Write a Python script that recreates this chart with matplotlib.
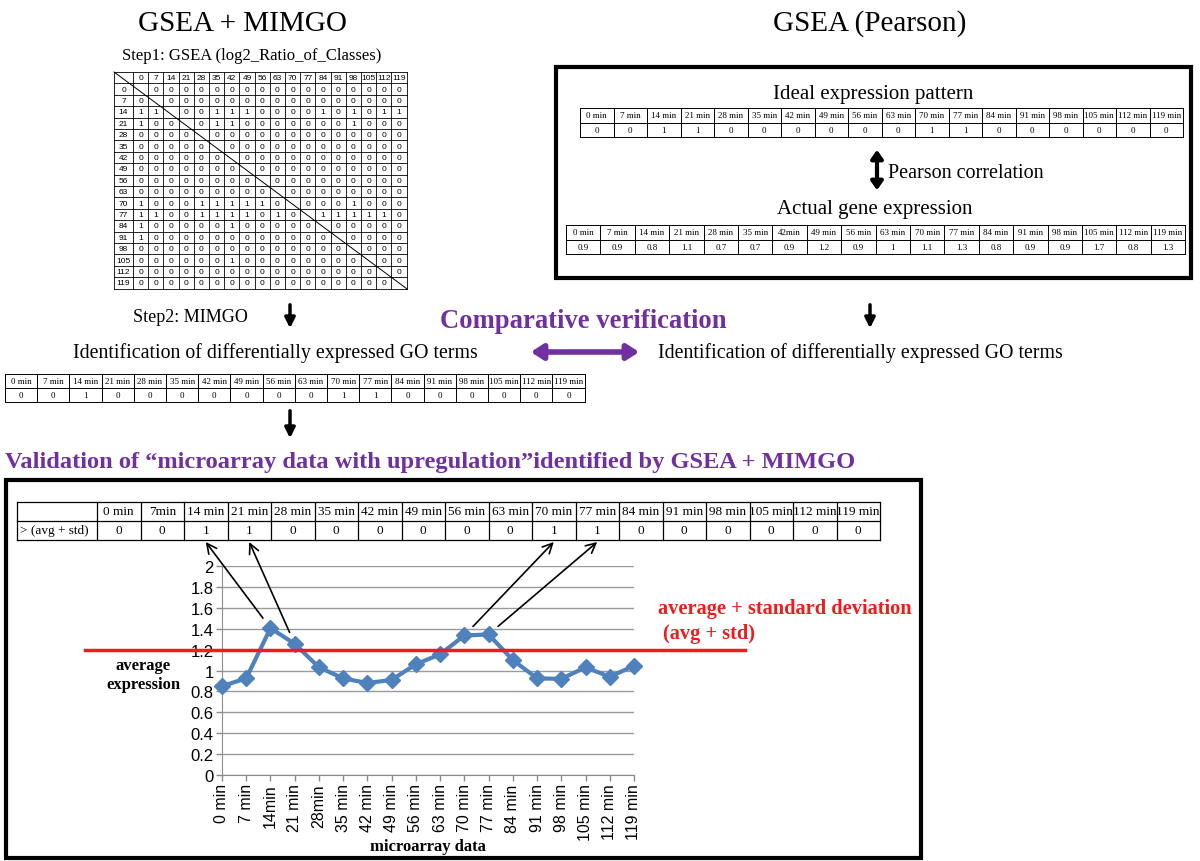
import matplotlib
matplotlib.use("Agg")
import matplotlib.pyplot as plt
from matplotlib.patches import Rectangle
from matplotlib.lines import Line2D

# ---------------- data ----------------
times = [0, 7, 14, 21, 28, 35, 42, 49, 56, 63, 70, 77, 84, 91, 98, 105, 112, 119]
matrix_rows = [
    "-00000000000000000",
    "0-0000000000000000",
    "11-001110000101011",
    "100-01100000001000",
    "0000-0000000000000",
    "00000-000000000000",
    "000000-00000000000",
    "0000000-0000000000",
    "00000000-000000000",
    "000000000-00000000",
    "1000111110-0001000",
    "11001111010-111110",
    "100000100000-00000",
    "1000000000000-0000",
    "00000000000000-000",
    "000000100000000-00",
    "0000000000000000-0",
    "00000000000000000-",
]
minute_labels = ["%d min" % t for t in times]
ideal_pattern = [0, 0, 1, 1, 0, 0, 0, 0, 0, 0, 1, 1, 0, 0, 0, 0, 0, 0]
actual_labels = ["0 min", "7 min", "14 min", "21 min", "28 min", "35 min", "42min", "49 min",
                 "56 min", "63 min", "70 min", "77 min", "84 min", "91 min", "98 min",
                 "105 min", "112 min", "119 min"]
actual_expr = ["0.9", "0.9", "0.8", "1.1", "0.7", "0.7", "0.9", "1.2", "0.9", "1",
               "1.1", "1.3", "0.8", "0.9", "0.9", "1.7", "0.8", "1.3"]
mimgo_result = [0, 0, 1, 0, 0, 0, 0, 0, 0, 0, 1, 1, 0, 0, 0, 0, 0, 0]
flag_labels = ["0 min", "7min", "14 min", "21 min", "28 min", "35 min", "42 min", "49 min",
               "56 min", "63 min", "70 min", "77 min", "84 min", "91 min", "98 min",
               "105 min", "112 min", "119 min"]
above_flags = [0, 0, 1, 1, 0, 0, 0, 0, 0, 0, 1, 1, 0, 0, 0, 0, 0, 0]
chart_labels = ["0 min", "7 min", "14min", "21 min", "28min", "35 min", "42 min", "49 min",
                "56 min", "63 min", "70 min", "77 min", "84 min", "91 min", "98 min",
                "105 min", "112 min", "119 min"]
avg_expr = [0.85, 0.925, 1.405, 1.255, 1.03, 0.925, 0.88, 0.91, 1.06, 1.155,
            1.335, 1.345, 1.10, 0.925, 0.92, 1.03, 0.94, 1.045]
threshold = 1.2
arrow_points = [2, 3, 10, 11]

SERIF = ["Liberation Serif", "DejaVu Serif"]
SANS = ["Liberation Sans", "DejaVu Sans"]
PURPLE = "#7030A0"
RED = "#ee1c1c"
W, H = 1200, 862

fig = plt.figure(figsize=(W / 100, H / 100), dpi=100)
ov = fig.add_axes([0, 0, 1, 1])
ov.set_xlim(0, W)
ov.set_ylim(H, 0)
ov.axis("off")


def draw_table(x0, y0, first_w, col_w, row_h, rows, fs, family, lw=0.8,
               first_align="center"):
    ncols = len(rows[0])
    widths = ([first_w] if first_w else []) + [col_w] * (ncols - (1 if first_w else 0))
    xs = [x0]
    for w in widths:
        xs.append(xs[-1] + w)
    nrows = len(rows)
    ys = [y0 + i * row_h for i in range(nrows + 1)]
    for y in ys:
        ov.add_line(Line2D([xs[0], xs[-1]], [y, y], lw=lw, color="black"))
    for x in xs:
        ov.add_line(Line2D([x, x], [ys[0], ys[-1]], lw=lw, color="black"))
    for r, row in enumerate(rows):
        for c, txt in enumerate(row):
            if txt is None or txt == "":
                continue
            if c == 0 and first_w and first_align == "left":
                ov.text(xs[c] + 3, (ys[r] + ys[r + 1]) / 2, str(txt),
                        ha="left", va="center", fontsize=fs, family=family)
            else:
                ov.text((xs[c] + xs[c + 1]) / 2, (ys[r] + ys[r + 1]) / 2, str(txt),
                        ha="center", va="center", fontsize=fs, family=family)
    return xs, ys


# ---------------- titles ----------------
ov.text(243, 24, "GSEA + MIMGO", ha="center", va="center", fontsize=21, family=SERIF)
ov.text(870, 24, "GSEA (Pearson)", ha="center", va="center", fontsize=21, family=SERIF)
ov.text(252, 56, "Step1: GSEA (log2_Ratio_of_Classes)", ha="center", va="center",
        fontsize=12, family=SERIF)

# ---------------- matrix ----------------
mrows = [[""] + [str(t) for t in times]]
for t, s in zip(times, matrix_rows):
    mrows.append([str(t)] + [("" if ch == "-" else ch) for ch in s])
mx, my = draw_table(114, 73, 19, 15.2, 11.4, mrows, 6, SANS, lw=0.6)
ov.add_line(Line2D([mx[0], mx[-1]], [my[0], my[-1]], lw=0.7, color="black"))

# ---------------- Pearson box ----------------
ov.add_patch(Rectangle((556, 68), 635, 211, fill=False, lw=3, ec="black"))
ov.text(873, 94, "Ideal expression pattern", ha="center", va="center", fontsize=15, family=SERIF)
draw_table(580, 109, None, 33.5, 14.5, [minute_labels, ideal_pattern], 6.5, SERIF, lw=0.7)
ov.annotate("", xy=(877, 194), xytext=(877, 148),
            arrowprops=dict(arrowstyle="<|-|>,head_length=0.5,head_width=0.35", lw=3, color="black"))
ov.text(888, 173, "Pearson correlation", ha="left", va="center", fontsize=14.5, family=SERIF)
ov.text(875, 210, "Actual gene expression", ha="center", va="center", fontsize=15, family=SERIF)
draw_table(566, 226, None, 34.4, 14.5, [actual_labels, actual_expr], 6.5, SERIF, lw=0.7)

# ---------------- middle row ----------------
ov.text(133, 318, "Step2: MIMGO", ha="left", va="center", fontsize=13, family=SERIF)
for ax_x in (290, 870):
    ov.annotate("", xy=(ax_x, 332), xytext=(ax_x, 303),
                arrowprops=dict(arrowstyle="-|>,head_length=0.6,head_width=0.3", lw=2.5, color="black"))
ov.text(583, 322, "Comparative verification", ha="center", va="center", fontsize=19.2,
        family=SERIF, weight="bold", color=PURPLE)
ov.annotate("", xy=(642, 353), xytext=(528, 353),
            arrowprops=dict(arrowstyle="<|-|>,head_length=0.7,head_width=0.45", lw=4, color=PURPLE))
ov.text(275, 353, "Identification of differentially expressed GO terms", ha="center",
        va="center", fontsize=14.3, family=SERIF)
ov.text(860, 353, "Identification of differentially expressed GO terms", ha="center",
        va="center", fontsize=14.3, family=SERIF)
draw_table(5, 375, None, 32.2, 14, [minute_labels, mimgo_result], 6.5, SERIF, lw=0.7)
ov.annotate("", xy=(290, 442), xytext=(290, 409),
            arrowprops=dict(arrowstyle="-|>,head_length=0.6,head_width=0.3", lw=2.5, color="black"))
ov.text(5, 463, "Validation of \u201cmicroarray data with upregulation\u201didentified by GSEA + MIMGO",
        ha="left", va="center", fontsize=17.6, family=SERIF, weight="bold", color=PURPLE)

# ---------------- bottom box ----------------
ov.add_patch(Rectangle((6, 481), 915, 378, fill=False, lw=3, ec="black"))
fx, fy = draw_table(17, 503, 80, 43.5, 19, [[""] + flag_labels,
                                               ["> (avg + std)"] + above_flags], 9.5, SERIF,
                    lw=0.9, first_align="left")

# chart axes
cl, cr, ct, cb = 222, 634, 567, 776
ax = fig.add_axes([cl / W, (H - cb) / H, (cr - cl) / W, (cb - ct) / H])
ax.patch.set_alpha(0)
xs = list(range(len(avg_expr)))
ax.set_xlim(0, len(avg_expr) - 1)
ax.set_ylim(0, 2)
yt = [i * 0.2 for i in range(11)]
ax.set_yticks(yt)
ax.set_yticklabels(["%g" % round(v, 1) for v in yt], family=SANS, fontsize=12)
ax.set_xticks(xs)
ax.set_xticklabels(chart_labels, rotation=90, family=SANS, fontsize=11.5)
ax.grid(axis="y", color="#9a9a9a", lw=1.0)
ax.set_axisbelow(True)
for s in ("top", "right"):
    ax.spines[s].set_visible(False)
for s in ("left", "bottom"):
    ax.spines[s].set_color("#8c8c8c")
ax.tick_params(axis="both", colors="#8c8c8c", labelcolor="black", length=4, width=1, pad=2)
ax.plot(xs, avg_expr, color="#4F81BD", lw=3, marker="D", markersize=8, zorder=3, clip_on=False)
ax.axhline(threshold, xmin=(85 - cl) / (cr - cl), xmax=(745 - cl) / (cr - cl),
           color=RED, lw=2.5, clip_on=False, zorder=4)
ax.set_xlabel("microarray data", family=SERIF, weight="bold", fontsize=12, va="center")
ax.xaxis.set_label_coords(0.5, (cb - 847) / (cb - ct))

# arrows from peak points to table cells
for i in arrow_points:
    cx = (fx[i + 1] + fx[i + 2]) / 2
    ax.annotate("", xy=(cx, fy[-1] + 2), xycoords=ov.transData,
                xytext=(i, avg_expr[i]), textcoords="data",
                arrowprops=dict(arrowstyle="->,head_length=0.7,head_width=0.35", lw=1.2,
                                color="black", shrinkA=9, shrinkB=0),
                annotation_clip=False)

ov.text(143, 676, "average\nexpression", ha="center", va="center", fontsize=12,
        family=SERIF, weight="bold", linespacing=1.25)
ov.text(658, 609, "average + standard deviation", ha="left", va="center", fontsize=14.7,
        family=SERIF, weight="bold", color=RED)
ov.text(663, 634, "(avg + std)", ha="left", va="center", fontsize=14.7,
        family=SERIF, weight="bold", color=RED)

fig.savefig("out.png", dpi=100)
